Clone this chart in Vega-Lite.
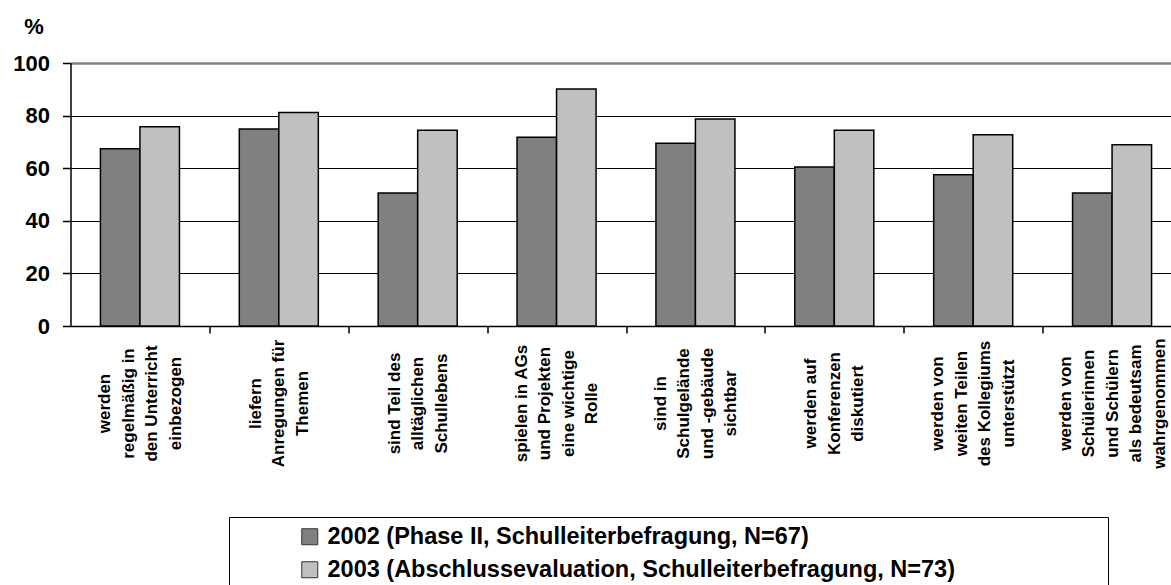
{
  "$schema": "https://vega.github.io/schema/vega-lite/v6.json",
  "width": 1100.5,
  "height": 263,
  "autosize": {"type": "none"},
  "padding": {"left": 70.5, "top": 63, "right": 0, "bottom": 259},
  "config": {"font": "Liberation Sans", "view": {"stroke": null}},
  "data": {
    "values": [
      {"category": "werden|regelmäßig in|den Unterricht|einbezogen", "year": "2002 (Phase II, Schulleiterbefragung, N=67)", "value": 67.4},
      {"category": "werden|regelmäßig in|den Unterricht|einbezogen", "year": "2003 (Abschlussevaluation, Schulleiterbefragung, N=73)", "value": 75.8},
      {"category": "liefern|Anregungen für|Themen", "year": "2002 (Phase II, Schulleiterbefragung, N=67)", "value": 74.9},
      {"category": "liefern|Anregungen für|Themen", "year": "2003 (Abschlussevaluation, Schulleiterbefragung, N=73)", "value": 81.2},
      {"category": "sind Teil des|alltäglichen|Schullebens", "year": "2002 (Phase II, Schulleiterbefragung, N=67)", "value": 50.6},
      {"category": "sind Teil des|alltäglichen|Schullebens", "year": "2003 (Abschlussevaluation, Schulleiterbefragung, N=73)", "value": 74.4},
      {"category": "spielen in AGs|und Projekten|eine wichtige|Rolle", "year": "2002 (Phase II, Schulleiterbefragung, N=67)", "value": 71.8},
      {"category": "spielen in AGs|und Projekten|eine wichtige|Rolle", "year": "2003 (Abschlussevaluation, Schulleiterbefragung, N=73)", "value": 90.1},
      {"category": "sind in|Schulgelände|und -gebäude|sichtbar", "year": "2002 (Phase II, Schulleiterbefragung, N=67)", "value": 69.5},
      {"category": "sind in|Schulgelände|und -gebäude|sichtbar", "year": "2003 (Abschlussevaluation, Schulleiterbefragung, N=73)", "value": 78.7},
      {"category": "werden auf|Konferenzen|diskutiert", "year": "2002 (Phase II, Schulleiterbefragung, N=67)", "value": 60.5},
      {"category": "werden auf|Konferenzen|diskutiert", "year": "2003 (Abschlussevaluation, Schulleiterbefragung, N=73)", "value": 74.4},
      {"category": "werden von|weiten Teilen|des Kollegiums|unterstützt", "year": "2002 (Phase II, Schulleiterbefragung, N=67)", "value": 57.5},
      {"category": "werden von|weiten Teilen|des Kollegiums|unterstützt", "year": "2003 (Abschlussevaluation, Schulleiterbefragung, N=73)", "value": 72.7},
      {"category": "werden von|Schülerinnen|und Schülern|als bedeutsam|wahrgenommen", "year": "2002 (Phase II, Schulleiterbefragung, N=67)", "value": 50.6},
      {"category": "werden von|Schülerinnen|und Schülern|als bedeutsam|wahrgenommen", "year": "2003 (Abschlussevaluation, Schulleiterbefragung, N=73)", "value": 68.9}
    ]
  },
  "mark": {"type": "bar", "stroke": "black", "strokeWidth": 1.5},
  "encoding": {
    "x": {
      "field": "category",
      "type": "nominal",
      "sort": null,
      "scale": {"range": [0, 1111], "paddingInner": 0.431, "paddingOuter": 0.2155},
      "axis": {
        "title": null,
        "labelAngle": -90,
        "labelAlign": "center",
        "labelBaseline": "middle",
        "labelExpr": "split(datum.label, '|')",
        "labelFontSize": 17,
        "labelFontWeight": "bold",
        "labelColor": "black",
        "labelLineHeight": 23.5,
        "labelPadding": 70,
        "labelLimit": 400,
        "labelOverlap": false,
        "tickOffset": 69.45,
        "labelOffset": {
          "condition": [
            {"test": "length(split(datum.label, '|')) == 5", "value": -116.45},
            {"test": "length(split(datum.label, '|')) == 4", "value": -104.7}
          ],
          "value": -92.95
        },
        "tickSize": 7,
        "tickColor": "black",
        "tickWidth": 1.5,
        "domainColor": "black",
        "domainWidth": 1.5,
        "grid": false
      }
    },
    "xOffset": {"field": "year", "type": "nominal", "scale": {"paddingInner": 0, "paddingOuter": 0}},
    "y": {
      "field": "value",
      "type": "quantitative",
      "scale": {"domain": [0, 100], "nice": false},
      "axis": {
        "values": [0, 20, 40, 60, 80, 100],
        "title": "%",
        "titleAngle": 0,
        "titleX": -37,
        "titleY": -30,
        "titleAlign": "center",
        "titleBaseline": "alphabetic",
        "titleFontSize": 22,
        "titleFontWeight": "bold",
        "titleColor": "black",
        "labelFontSize": 22,
        "labelFontWeight": "bold",
        "labelColor": "black",
        "labelPadding": 13,
        "tickSize": 8,
        "tickColor": "black",
        "tickWidth": 1.5,
        "domainColor": "black",
        "domainWidth": 1.5,
        "grid": true,
        "gridColor": {"condition": {"test": "datum.value === 100", "value": "#808080"}, "value": "black"},
        "gridWidth": {"condition": {"test": "datum.value === 100", "value": 2.5}, "value": 1}
      }
    },
    "fill": {
      "field": "year",
      "type": "nominal",
      "scale": {"range": ["#808080", "#C0C0C0"]},
      "legend": {
        "orient": "none",
        "legendX": 158.5,
        "legendY": 454,
        "title": "\u00a0",
        "titleOrient": "right",
        "titlePadding": 145,
        "direction": "vertical",
        "symbolType": "square",
        "symbolSize": 256,
        "symbolStrokeColor": "#333333",
        "symbolStrokeWidth": 1,
        "symbolOffset": 61,
        "labelOffset": 6,
        "labelFontSize": 23.5,
        "labelFontWeight": "bold",
        "labelColor": "black",
        "labelLimit": 1000,
        "rowPadding": 8,
        "padding": 8,
        "strokeColor": "black",
        "fillColor": "white"
      }
    }
  }
}
